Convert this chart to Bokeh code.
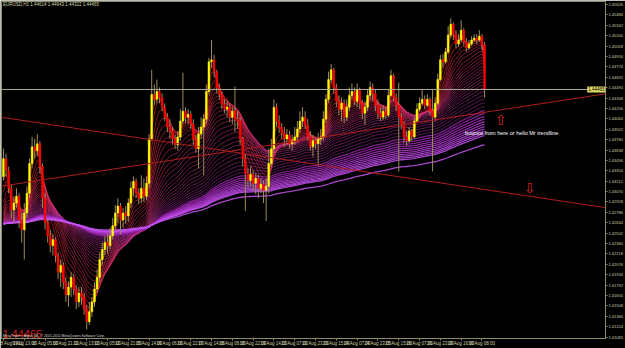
import numpy as np
from bokeh.plotting import figure
from bokeh.models import Range1d, FixedTicker, PrintfTickFormatter, Span, Label, Slope, ColumnDataSource
from bokeh.embed import file_html
from bokeh.resources import INLINE
from bokeh.core.properties import value

# ---------------- data (EURUSD, 2-hour candles) ----------------
first_open = 1.43277
close = [
    1.43520, 1.43358, 1.43115, 1.42818, 1.42913, 1.43007, 1.42683, 1.42548, 1.42778, 1.43048,
    1.43453, 1.43682, 1.43628, 1.43723, 1.43412, 1.42980, 1.42643, 1.42467, 1.42332, 1.42413,
    1.42197, 1.41968, 1.42062, 1.41833, 1.41657, 1.41765, 1.41900, 1.41738, 1.41563, 1.41684,
    1.41630, 1.41468, 1.41293, 1.41428, 1.41563, 1.41738, 1.41900, 1.42143, 1.42278, 1.42373,
    1.42332, 1.42467, 1.42602, 1.42778, 1.42872, 1.42683, 1.42778, 1.42737, 1.42913, 1.43115,
    1.43210, 1.43048, 1.42980, 1.43115, 1.43007, 1.43183, 1.43790, 1.44398, 1.44330, 1.44438,
    1.44357, 1.44222, 1.44087, 1.43952, 1.43898, 1.43790, 1.43709, 1.43817, 1.44033, 1.44168,
    1.44087, 1.44128, 1.43993, 1.43790, 1.43655, 1.43858, 1.43952, 1.44060, 1.44438, 1.44843,
    1.44870, 1.44708, 1.44492, 1.44398, 1.44263, 1.44195, 1.44222, 1.44087, 1.44168, 1.44060,
    1.44033, 1.43790, 1.43520, 1.43318, 1.43223, 1.43304, 1.43183, 1.43250, 1.43115, 1.43169,
    1.43088, 1.43142, 1.43453, 1.43655, 1.44222, 1.44033, 1.43952, 1.43871, 1.43790, 1.43844,
    1.43723, 1.43763, 1.43817, 1.43925, 1.44033, 1.44087, 1.43979, 1.43817, 1.43682, 1.43763,
    1.43723, 1.43790, 1.43817, 1.44060, 1.44330, 1.44600, 1.44735, 1.44492, 1.44303, 1.44195,
    1.44276, 1.44087, 1.44222, 1.44384, 1.44438, 1.44303, 1.44465, 1.44276, 1.44141, 1.44222,
    1.44384, 1.44492, 1.44411, 1.44249, 1.44141, 1.44087, 1.44168, 1.44114, 1.44384, 1.44654,
    1.44357, 1.44249, 1.44087, 1.43993, 1.43817, 1.43763, 1.43898, 1.43817, 1.44033, 1.44195,
    1.44276, 1.44330, 1.44249, 1.44330, 1.44168, 1.44087, 1.44276, 1.44600, 1.44870, 1.44843,
    1.44978, 1.45208, 1.45356, 1.45221, 1.45086, 1.45140, 1.45275, 1.45113, 1.45032, 1.45086,
    1.45140, 1.45167, 1.45140, 1.45194, 1.45073, 1.44465]
high = [
    1.43655, 1.43588, 1.43412, 1.43169, 1.43007, 1.43115, 1.43048, 1.42778, 1.42913, 1.43142,
    1.43520, 1.43817, 1.43790, 1.43858, 1.43763, 1.43453, 1.43048, 1.42683, 1.42548, 1.42494,
    1.42440, 1.42238, 1.42143, 1.42103, 1.41900, 1.41846, 1.41968, 1.41941, 1.41792, 1.41765,
    1.41765, 1.41684, 1.41522, 1.41563, 1.41630, 1.41833, 1.42008, 1.42238, 1.42373, 1.42467,
    1.42494, 1.42575, 1.42710, 1.42886, 1.42980, 1.42913, 1.42845, 1.42872, 1.42980, 1.43210,
    1.43277, 1.43250, 1.43115, 1.43291, 1.43250, 1.43277, 1.43858, 1.44735, 1.44533, 1.44600,
    1.44492, 1.44411, 1.44276, 1.44141, 1.44060, 1.43952, 1.43844, 1.43898, 1.44195, 1.44695,
    1.44222, 1.44195, 1.44168, 1.44060, 1.43844, 1.43952, 1.44087, 1.44128, 1.44533, 1.44897,
    1.45140, 1.44938, 1.44735, 1.44546, 1.44438, 1.44330, 1.44303, 1.44276, 1.44222, 1.44506,
    1.44168, 1.44087, 1.43817, 1.43588, 1.43385, 1.43412, 1.43358, 1.43318, 1.43304, 1.43250,
    1.43223, 1.43250, 1.43655, 1.43790, 1.44330, 1.44276, 1.44114, 1.44006, 1.43952, 1.43925,
    1.43898, 1.43844, 1.43952, 1.44033, 1.44168, 1.44222, 1.44168, 1.44060, 1.43898, 1.43844,
    1.43817, 1.43871, 1.43925, 1.44168, 1.44398, 1.44708, 1.44816, 1.44762, 1.44546, 1.44384,
    1.44357, 1.44330, 1.44330, 1.44492, 1.44546, 1.44492, 1.44546, 1.44492, 1.44330, 1.44303,
    1.44465, 1.44573, 1.44546, 1.44465, 1.44330, 1.44222, 1.44249, 1.44222, 1.44465, 1.44735,
    1.44681, 1.44411, 1.44560, 1.44141, 1.44033, 1.43898, 1.43952, 1.43925, 1.44087, 1.44276,
    1.44357, 1.44465, 1.44384, 1.44398, 1.44357, 1.44465, 1.44357, 1.44681, 1.44938, 1.44951,
    1.45032, 1.45329, 1.45437, 1.45383, 1.45275, 1.45221, 1.45410, 1.45302, 1.45167, 1.45140,
    1.45194, 1.45221, 1.45221, 1.45275, 1.45221, 1.45113]
low = [
    1.43223, 1.43277, 1.43048, 1.42710, 1.42643, 1.42845, 1.42575, 1.42373, 1.42143, 1.42710,
    1.42980, 1.43385, 1.43520, 1.43547, 1.43318, 1.42845, 1.42548, 1.42373, 1.42238, 1.42197,
    1.42103, 1.41873, 1.41765, 1.41738, 1.41563, 1.41495, 1.41630, 1.41657, 1.41468, 1.41495,
    1.41522, 1.41387, 1.41185, 1.41252, 1.41360, 1.41495, 1.41684, 1.41833, 1.42062, 1.42197,
    1.42224, 1.42278, 1.42413, 1.42548, 1.42643, 1.42481, 1.42575, 1.42629, 1.42656, 1.42845,
    1.43007, 1.42980, 1.42899, 1.42913, 1.42926, 1.42953, 1.43115, 1.43763, 1.44249, 1.44276,
    1.44276, 1.44168, 1.44033, 1.43885, 1.43790, 1.43709, 1.43655, 1.43628, 1.43763, 1.43993,
    1.44006, 1.43993, 1.43925, 1.43709, 1.43601, 1.43385, 1.43790, 1.43291, 1.43993, 1.44398,
    1.44762, 1.44627, 1.44411, 1.44330, 1.44195, 1.44141, 1.44087, 1.44020, 1.43993, 1.43885,
    1.43925, 1.43709, 1.43412, 1.42805, 1.43115, 1.43142, 1.43088, 1.43034, 1.42980, 1.43048,
    1.42913, 1.42670, 1.43048, 1.43412, 1.43588, 1.43952, 1.43871, 1.43790, 1.43682, 1.43709,
    1.43655, 1.43628, 1.43709, 1.43763, 1.43871, 1.43952, 1.43925, 1.43763, 1.43628, 1.43547,
    1.43655, 1.43412, 1.43709, 1.43763, 1.44006, 1.44276, 1.44546, 1.44411, 1.44222, 1.44114,
    1.44033, 1.44006, 1.44033, 1.44168, 1.44330, 1.44249, 1.44222, 1.44195, 1.44060, 1.43979,
    1.44168, 1.44330, 1.44303, 1.44168, 1.44060, 1.44033, 1.44047, 1.44060, 1.44087, 1.44357,
    1.44303, 1.44168, 1.43345, 1.43925, 1.43736, 1.43696, 1.43736, 1.43763, 1.43790, 1.44006,
    1.44168, 1.44249, 1.44195, 1.44222, 1.44114, 1.43345, 1.44033, 1.44249, 1.44573, 1.44762,
    1.44816, 1.44951, 1.45167, 1.45140, 1.45032, 1.45046, 1.45113, 1.45059, 1.44978, 1.45005,
    1.45059, 1.45113, 1.45086, 1.45113, 1.45005, 1.44357]

time_labels = ["8 Aug 2011", "9 Aug 13:00", "10 Aug 05:00", "10 Aug 21:00", "11 Aug 13:00",
               "12 Aug 05:00", "12 Aug 21:00", "15 Aug 14:00", "16 Aug 06:00", "16 Aug 22:00",
               "17 Aug 14:00", "18 Aug 06:00", "18 Aug 22:00", "19 Aug 14:00", "22 Aug 07:00",
               "22 Aug 23:00", "23 Aug 15:00", "24 Aug 07:00", "24 Aug 23:00", "25 Aug 15:00",
               "26 Aug 07:00", "26 Aug 23:00", "29 Aug 16:00", "30 Aug 08:00"]
bars_per_label = 8

price_ticks = [1.45626, 1.45484, 1.45342, 1.45200, 1.45058, 1.44916, 1.44774, 1.44632, 1.44490,
               1.44348, 1.44206, 1.44064, 1.43922, 1.43780, 1.43638, 1.43496, 1.43354, 1.43212,
               1.43070, 1.42928, 1.42786, 1.42644, 1.42502, 1.42360, 1.42218, 1.42076, 1.41934,
               1.41792, 1.41650, 1.41508, 1.41366, 1.41224, 1.41082]

last_price = 1.44465
ribbon_seed = 1.4262
ribbon_periods = [2, 3, 5, 7, 9, 11, 13, 15, 18, 21, 24, 27, 30, 34, 38, 42, 47, 52, 57, 63,
                  69, 76, 84, 92, 101, 110, 120, 128, 136, 144, 152, 160, 168, 176, 184, 192,
                  200, 240]
trend_down = [(0, 1.44081), (185, 1.43098)]
trend_up = [(0, 1.43148), (185, 1.44153)]
note_text = "bounce from here or hello Mr trendline"
title_text = "EURUSD,H1  1.44614 1.44643 1.44322 1.44465"
copyright_text = "MetaTrader - Alpari UK, \u00a9 2001-2011 MetaQuotes Software Corp."

# ---------------- derived ----------------
close_a = np.array(close)
n = len(close_a)
bars = np.arange(n)
open_a = np.r_[first_open, close_a[:-1]]
up = close_a >= open_a

FG = "#8c8c62"
TXT = "#cfcfa6"

p = figure(width=625, height=348, output_backend="svg", toolbar_location=None,
           x_range=Range1d(-0.76, 231.5), y_range=Range1d(1.41063, 1.45667),
           y_axis_location="right", x_axis_location="below",
           background_fill_color="black", border_fill_color="black",
           outline_line_color=FG, outline_line_width=1,
           min_border_left=1, min_border_top=1, min_border_right=0, min_border_bottom=0)
p.grid.visible = False

# x axis
xa = p.xaxis[0]
tick_pos = list(range(0, bars_per_label * len(time_labels), bars_per_label))
xa.ticker = FixedTicker(ticks=tick_pos)
xa.major_label_overrides = {t: lab for t, lab in zip(tick_pos, time_labels)}
xa.major_label_text_font_size = "4.5px"
xa.major_label_text_font = "Liberation Sans"
xa.major_label_text_color = TXT
xa.major_label_text_align = "left"
xa.major_label_standoff = 0
xa.major_tick_in = 0
xa.major_tick_out = 2
xa.minor_tick_line_color = None
xa.axis_line_color = FG
xa.major_tick_line_color = FG

# y axis
ya = p.yaxis[0]
ya.ticker = FixedTicker(ticks=price_ticks)
ya.formatter = PrintfTickFormatter(format="%.5f")
ya.major_label_text_font_size = "4px"
ya.major_label_text_font = "Liberation Sans"
ya.major_label_text_color = TXT
ya.major_label_standoff = 1
ya.major_tick_in = 0
ya.major_tick_out = 2
ya.minor_tick_line_color = None
ya.axis_line_color = FG
ya.major_tick_line_color = FG

# moving-average ribbon (EMAs of the closes)
stops = np.array([[255, 35, 35], [225, 50, 105], [185, 50, 145], [150, 35, 170], [200, 85, 245]], float)
stop_t = np.array([0.0, 0.2, 0.5, 0.72, 1.0])
xs, ys, cols, widths = [], [], [], []
for k, per in enumerate(ribbon_periods):
    a = 2.0 / (per + 1)
    prev = ribbon_seed
    out = np.empty(n)
    for i in range(n):
        prev = prev + a * (close_a[i] - prev)
        out[i] = prev
    t = k / (len(ribbon_periods) - 1)
    rgb = [int(np.interp(t, stop_t, stops[:, c])) for c in range(3)]
    xs.append(bars.tolist())
    ys.append(out.tolist())
    cols.append("#%02x%02x%02x" % tuple(rgb))
    widths.append(1.3 if per >= 120 else 0.65)
rib = ColumnDataSource(dict(xs=xs, ys=ys, c=cols, w=widths))
p.multi_line("xs", "ys", source=rib, line_color="c", line_width="w", line_alpha=0.85)

# trend lines
for (b1, p1), (b2, p2) in (trend_down, trend_up):
    g = (p2 - p1) / (b2 - b1)
    p.add_layout(Slope(gradient=g, y_intercept=p1 - g * b1, line_color="#b01c1c", line_width=1))

# current price line
p.add_layout(Span(location=last_price, dimension="width", line_color="#a9a99a", line_width=1))

# candles
src = ColumnDataSource(dict(x=bars, o=open_a, c=close_a, h=high, l=low,
                            top=np.maximum(open_a, close_a), bot=np.minimum(open_a, close_a),
                            col=np.where(up, "#ffff00", "#ff0000")))
p.segment("x", "h", "x", "l", source=src, line_color="#9c8a5a", line_width=1)
p.vbar(x="x", width=0.68, top="top", bottom="bot", source=src, fill_color="col", line_color="col",
       line_width=0.5)

# arrows and note
p.text(x=[191.2], y=[1.44047], text=["\u21e7"], text_color="#d82020", text_font_size="14px",
       text_align="center", text_baseline="middle", text_font=value("DejaVu Sans"))
p.text(x=[202.3], y=[1.43115], text=["\u21e9"], text_color="#d82020", text_font_size="14px",
       text_align="center", text_baseline="middle", text_font=value("DejaVu Sans"))
p.text(x=[177.5], y=[1.43871], text=[note_text], text_color="white", text_font_size="5.5px",
       text_align="left", text_baseline="middle", text_font=value("Liberation Sans"))

# title, big price, copyright
p.text(x=[-0.2], y=[1.45626], text=[title_text], text_color=TXT, text_font_size="4.5px",
       text_align="left", text_baseline="middle", text_font=value("Liberation Sans"))
p.text(x=[-0.4], y=[1.41130], text=["1.44465"], text_color="#d42020", text_font_size="11px",
       text_align="left", text_baseline="alphabetic", text_font=value("Liberation Sans"))
p.text(x=[-0.2], y=[1.41095], text=[copyright_text], text_color="#d8d8c8", text_font_size="3.5px",
       text_align="left", text_baseline="middle", text_font=value("Liberation Sans"))

# price marker at the right edge of the chart
p.add_layout(Label(x=231.5, y=last_price, text="1.44465",
                   text_font_size="4.5px", text_font="Liberation Sans", text_color="black",
                   text_align="right", text_baseline="middle",
                   background_fill_color="#e2dc6a", padding=1))

open("out.html", "w").write(file_html(p, INLINE))
